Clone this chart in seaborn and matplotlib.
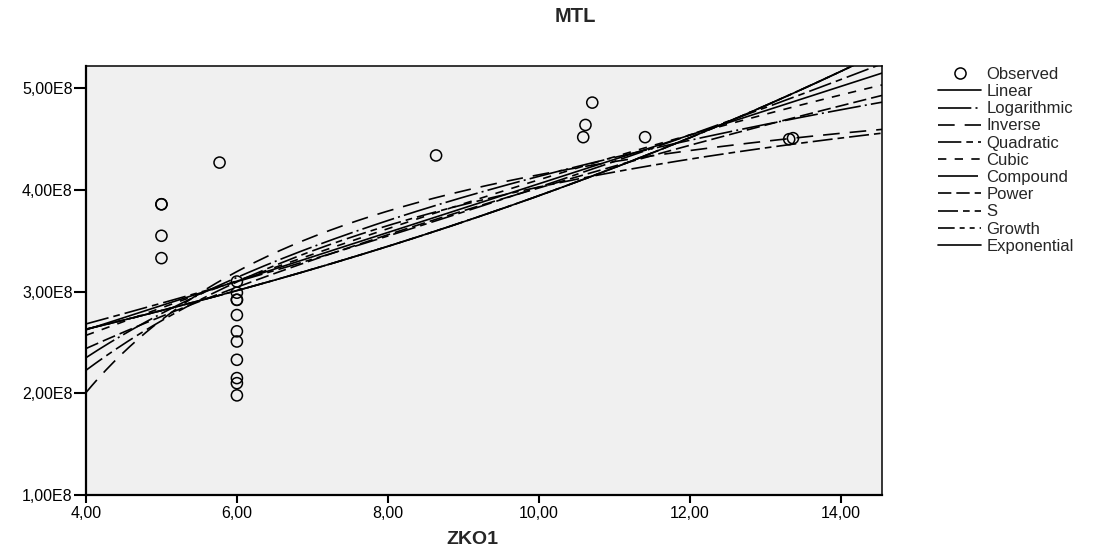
import numpy as np
import pandas as pd
import matplotlib
matplotlib.use("Agg")
import matplotlib.pyplot as plt
import seaborn as sns
from matplotlib.lines import Line2D
from matplotlib.ticker import FuncFormatter

zko1 = [5.0, 5.0, 5.0, 5.0, 5.77,
        6.0, 6.0, 6.0, 6.0, 6.0, 6.0, 6.0, 6.0, 6.0, 6.0, 6.0,
        8.64, 10.59, 10.62, 10.71, 11.41, 13.32, 13.37]
mtl = [3.86e8, 3.86e8, 3.55e8, 3.33e8, 4.27e8,
       3.10e8, 2.99e8, 2.92e8, 2.92e8, 2.77e8, 2.61e8, 2.51e8, 2.33e8, 2.15e8, 2.10e8, 1.98e8,
       4.34e8, 4.52e8, 4.64e8, 4.86e8, 4.52e8, 4.50e8, 4.51e8]

models = ["Linear", "Logarithmic", "Inverse", "Quadratic", "Cubic",
          "Compound", "Power", "S", "Growth", "Exponential"]
styles = {
    "Linear": "-",
    "Logarithmic": (0, (20, 2.5, 1.2, 2.5)),
    "Inverse": (0, (10, 6)),
    "Quadratic": (0, (14, 3, 4, 3)),
    "Cubic": (0, (5, 5)),
    "Compound": (0, (24, 2.5, 1.2, 2.5)),
    "Power": (0, (8, 3)),
    "S": (0, (12, 3, 4, 3)),
    "Growth": (0, (10, 3, 3, 3, 3, 3)),
    "Exponential": "-",
}

xticks = [4, 6, 8, 10, 12, 14]
yticks = [1e8, 2e8, 3e8, 4e8, 5e8]
xlim = (4.0, 14.55)
ylim = (1.0e8, 5.22e8)

# ---- curve estimation (as SPSS does) ----
x = np.array(zko1, dtype=float)
y = np.array(mtl, dtype=float)
ly = np.log(y)
grid = np.linspace(xlim[0], xlim[1], 400)


def lsq(cols, gcols, target):
    c, *_ = np.linalg.lstsq(np.column_stack(cols), target, rcond=None)
    return np.column_stack(gcols) @ c


def fit(mname):
    one, gone = np.ones_like(x), np.ones_like(grid)
    if mname == "Linear":
        return lsq([one, x], [gone, grid], y)
    if mname == "Logarithmic":
        return lsq([one, np.log(x)], [gone, np.log(grid)], y)
    if mname == "Inverse":
        return lsq([one, 1 / x], [gone, 1 / grid], y)
    if mname == "Quadratic":
        return lsq([one, x, x ** 2], [gone, grid, grid ** 2], y)
    if mname == "Cubic":
        # SPSS drops the quadratic term here (tolerance), leaving x and x^3
        return lsq([one, x, x ** 3], [gone, grid, grid ** 3], y)
    if mname in ("Compound", "Growth", "Exponential"):
        return np.exp(lsq([one, x], [gone, grid], ly))
    if mname == "Power":
        return np.exp(lsq([one, np.log(x)], [gone, np.log(grid)], ly))
    if mname == "S":
        return np.exp(lsq([one, 1 / x], [gone, 1 / grid], ly))


sns.set_theme(style="white")
plt.rcParams["font.family"] = ["Liberation Sans", "DejaVu Sans"]

fig = plt.figure(figsize=(11.02, 5.52), dpi=100)
ax = fig.add_axes([86 / 1102, 57 / 552, (882 - 86) / 1102, (495 - 66) / 552])
ax.set_facecolor("#F0F0F0")

for m in models:
    df = pd.DataFrame({"x": grid, "y": fit(m)})
    sns.lineplot(data=df, x="x", y="y", ax=ax, color="black", linewidth=1.2,
                 linestyle=styles[m], sort=False, estimator=None)

sns.scatterplot(x=zko1, y=mtl, ax=ax, marker="o", s=64, facecolor="none",
                edgecolor="black", linewidth=1.1, zorder=5)

ax.set_xlim(*xlim)
ax.set_ylim(*ylim)
ax.set_xticks(xticks)
ax.set_yticks(yticks)
ax.xaxis.set_major_formatter(FuncFormatter(lambda v, p: f"{v:.2f}".replace(".", ",")))
ax.yaxis.set_major_formatter(FuncFormatter(lambda v, p: f"{v / 1e8:.2f}E8".replace(".", ",")))
ax.tick_params(axis="x", direction="out", length=6, width=1.5, labelsize=11.5,
               colors="black", pad=2, bottom=True, top=False)
ax.tick_params(axis="y", direction="out", length=9, width=1.5, labelsize=11.5,
               colors="black", pad=0.5, left=True, right=False)
for s in ["left", "bottom"]:
    ax.spines[s].set_linewidth(1.6)
for s in ["top", "right"]:
    ax.spines[s].set_linewidth(1.1)
for s in ax.spines.values():
    s.set_color("black")
ax.set_xlabel("")
ax.set_ylabel("")

fig.text(575 / 1102, 1 - 17 / 552, "MTL", ha="center", va="center",
         fontsize=14.5, fontweight="bold")
fig.text(472 / 1102, 1 - 540 / 552, "ZKO1", ha="center", va="center",
         fontsize=14, fontweight="bold")

handles = [Line2D([], [], linestyle="none", marker="o", markersize=8,
                  markerfacecolor="none", markeredgecolor="black", markeredgewidth=1.1)]
for m in models:
    handles.append(Line2D([], [], color="black", linewidth=1.2, linestyle=styles[m]))
fig.legend(handles, ["Observed"] + models, loc="upper left",
           bbox_to_anchor=(938 / 1102, 1 - 67 / 552), frameon=False,
           fontsize=12, handlelength=2.6, handletextpad=0.3, labelspacing=0.13,
           borderpad=0, borderaxespad=0)

fig.savefig("out.png", dpi=100)
